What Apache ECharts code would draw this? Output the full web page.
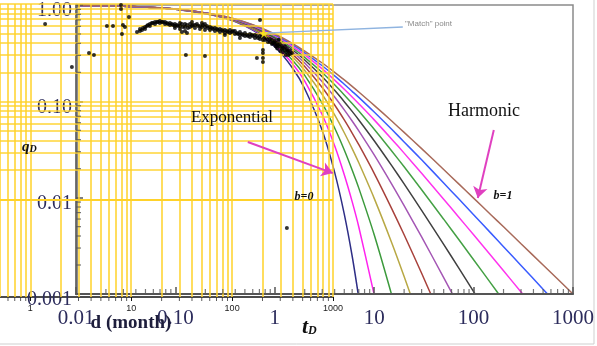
<!DOCTYPE html>
<html><head><meta charset="utf-8">
<script src="https://cdn.jsdelivr.net/npm/echarts@6/dist/echarts.min.js"></script>
<style>html,body{margin:0;padding:0;background:#fff}#c{width:597px;height:346px}</style>
</head><body><div id="c"></div>
<script>
// ---------- type-curve data (tD, qD) ----------
const tdSamples = [0.01,0.03,0.1,0.3,0.6,1,1.5,2,3,4,5,6,7,10,15,20,30,50,70,100,150,200,300,500,700,1000];
const bLabels = ['b=0','b=0.1','b=0.2','b=0.3','b=0.4','b=0.5','b=0.6','b=0.7','b=0.8','b=0.9','b=1'];
const qB00 = [0.990,0.970,0.905,0.741,0.549,0.368,0.223,0.135,0.0498,0.0183,0.00674,0.00248,0.00091];
const qB01 = [0.990,0.970,0.905,0.744,0.558,0.386,0.247,0.162,0.0725,0.0346,0.0173,0.0091,0.00496,0.00098];
const qB02 = [0.990,0.970,0.906,0.747,0.567,0.402,0.269,0.186,0.0954,0.0529,0.0313,0.0194,0.01256,0.00412,0.000977];
const qB03 = [0.990,0.970,0.906,0.750,0.576,0.417,0.290,0.209,0.1177,0.0722,0.0472,0.0323,0.0230,0.00984,0.00341,0.00152,0.000464];
const qB04 = [0.990,0.970,0.907,0.753,0.584,0.431,0.309,0.230,0.1393,0.0917,0.0642,0.0469,0.0355,0.0179,0.00771,0.00412,0.00164,0.000495];
const qB05 = [0.990,0.970,0.907,0.756,0.592,0.444,0.327,0.250,0.160,0.111,0.0816,0.0625,0.0494,0.0278,0.01384,0.00826,0.00391,0.00148,0.000772];
const qB06 = [0.990,0.970,0.907,0.759,0.599,0.457,0.343,0.269,0.180,0.130,0.0992,0.0786,0.0641,0.0390,0.0215,0.01391,0.00739,0.00327,0.00190,0.00106,0.000543];
const qB07 = [0.990,0.970,0.908,0.762,0.606,0.469,0.359,0.286,0.199,0.1485,0.1166,0.0949,0.0792,0.0513,0.0305,0.0209,0.01209,0.00598,0.00374,0.00227,0.00128,0.000851];
const qB08 = [0.990,0.970,0.908,0.764,0.613,0.480,0.373,0.303,0.217,0.166,0.1337,0.1111,0.0945,0.0642,0.0405,0.0290,0.01789,0.00964,0.00638,0.00412,0.00249,0.00174,0.00105,0.000557];
const qB09 = [0.990,0.970,0.909,0.767,0.619,0.490,0.387,0.319,0.234,0.184,0.1505,0.127,0.1099,0.0774,0.0512,0.0379,0.0247,0.01421,0.00984,0.00666,0.00426,0.00310,0.00198,0.00112,0.000774];
const qB10 = [0.990,0.971,0.909,0.769,0.625,0.500,0.400,0.333,0.250,0.200,0.1667,0.1429,0.125,0.0909,0.0625,0.0476,0.0323,0.0196,0.01408,0.0099,0.00662,0.00498,0.00332,0.0020,0.00143,0.000999];
const curveValues = [qB00,qB01,qB02,qB03,qB04,qB05,qB06,qB07,qB08,qB09,qB10];

// ---------- tick labels ----------
const tdTickValues = [0.01,0.1,1,10,100,1000];
const tdTickLabels = ['0.01','0.10','1','10','100','1000'];
const qdTickValues = [0.001,0.01,0.1,1];
const qdTickLabels = ['0.001','0.01','0.10','1.00'];
const monthTickValues = [1,10,100,1000];
const monthTickLabels = ['1','10','100','1000'];
const tdMinorTicks = [0.02,0.03,0.04,0.05,0.06,0.07,0.08,0.09,0.2,0.3,0.4,0.5,0.6,0.7,0.8,0.9,2,3,4,5,6,7,8,9,20,30,40,50,60,70,80,90,200,300,400,500,600,700,800,900];
const qdMinorTicks = [0.002,0.003,0.004,0.005,0.006,0.007,0.008,0.009,0.02,0.03,0.04,0.05,0.06,0.07,0.08,0.09,0.2,0.3,0.4,0.5,0.6,0.7,0.8,0.9];
const monthMinorTicks = [0.6,0.7,0.8,0.9,2,3,4,5,6,7,8,9,20,30,40,50,60,70,80,90,200,300,400,500,600,700,800,900];

// ---------- overlay (production data) grid values ----------
const monthGridValues = [0.5,0.6,0.7,0.8,0.9,1,2,3,4,5,6,7,8,9,10,20,30,40,50,60,70,80,90,100,200,300,400,500,600,700,800,900,1000];
const rateGridValues = [0.001,0.002,0.003,0.004,0.005,0.006,0.007,0.008,0.009,0.01,0.02,0.03,0.04,0.05,0.06,0.07,0.08,0.09,0.1,0.2,0.3,0.4,0.5,0.6,0.7,0.8,0.9,1];

// ---------- production data points (month, normalized rate) ----------
const wellPoints = [
 [1.40,0.624],[2.58,0.227],[3.81,0.315],[4.27,0.301],[5.74,0.595],[6.59,0.595],[7.91,0.977],[7.91,0.889],[8.27,0.610],[8.66,0.582],[8.09,0.493],[9.49,0.736],[11.4,0.517],
 [34.8,0.301],[53.8,0.294],[176,0.280],[202,0.338],[202,0.315],[202,0.280],[202,0.255],[189,0.686],[349,0.0051],
 [12.2,0.529],[12.2,0.555],[12.8,0.542],[13.7,0.582],[13.7,0.555],[14.3,0.595],[15.3,0.624],[15.3,0.595],[16.0,0.639],[17.2,0.654],[17.2,0.624],[18.0,0.654],[19.2,0.670],[19.2,0.639],[20.1,0.654],[21.6,0.654],[21.6,0.624],[22.6,0.639],[24.2,0.639],[24.2,0.610],[25.3,0.624],[27.1,0.624],[27.1,0.595],[27.1,0.568],[28.4,0.610],
 [30.4,0.639],[30.4,0.595],[30.4,0.555],[31.8,0.624],[31.8,0.517],[34.1,0.624],[34.1,0.582],[34.1,0.529],[35.7,0.610],[35.7,0.505],[38.2,0.624],[38.2,0.582],[40.0,0.654],[40.0,0.595],[42.8,0.610],[42.8,0.568],[44.8,0.624],[48.0,0.595],[48.0,0.555],
 [50.2,0.639],[50.2,0.582],[53.8,0.624],[53.8,0.582],[53.8,0.542],[56.3,0.595],[60.3,0.582],[60.3,0.542],[63.1,0.568],[67.5,0.568],[67.5,0.529],[70.7,0.555],[75.7,0.555],[75.7,0.517],[79.2,0.542],[84.8,0.542],[84.8,0.505],[84.8,0.482],[88.8,0.529],[95.1,0.542],[95.1,0.505],[99.5,0.517],
 [106.6,0.529],[106.6,0.493],[111.6,0.505],[119.5,0.517],[119.5,0.482],[119.5,0.449],[125.1,0.493],[133.9,0.505],[133.9,0.470],[140.2,0.482],[150.1,0.493],[150.1,0.459],[157.2,0.482],[168.3,0.482],[168.3,0.449],[176.2,0.470],[188.6,0.470],[188.6,0.438],[197.4,0.459],
 [211.4,0.459],[211.4,0.428],[221.4,0.438],[236.9,0.438],[236.9,0.409],[248.0,0.428],[248.0,0.390],[265.6,0.418],[265.6,0.390],[278.1,0.399],[278.1,0.372],[297.6,0.390],[297.6,0.364],[311.6,0.372],[311.6,0.347],[333.7,0.364],[333.7,0.338],[349.4,0.347],[349.4,0.323],[374.0,0.330],[374.0,0.308],[391.5,0.315],
 [260,0.40],[280,0.35],[300,0.33],[320,0.32],[340,0.30],[360,0.30],[290,0.43],[270,0.37],
 [13.06,0.568],[14.64,0.610],[16.41,0.639],[18.39,0.654],[20.62,0.654],[23.11,0.624],[25.90,0.610],[29.03,0.595],[32.54,0.582],[36.47,0.568],[40.88,0.610],[45.81,0.595],[51.35,0.610],[57.56,0.568],[64.52,0.555],
 [72.32,0.542],[81.06,0.529],[90.87,0.517],[101.8,0.529],[114.2,0.493],[127.9,0.482],[143.4,0.470],[160.7,0.470],[180.2,0.449],[202.0,0.428],[226.4,0.409],[253.8,0.399],[284.4,0.381],[318.8,0.355],[357.3,0.330]
];

// ---------- annotations in (tD, qD) ----------
const matchPoint = [0.78, 0.51];
const matchLabelEnd = [19.4, 0.591];
const expArrow = [[0.535, 0.0378], [3.83, 0.018]];
const harmArrow = [[159.7, 0.0504], [110.2, 0.0099]];

// ---------- styles ----------
const curveColors = ['#2e2e86','#ff22ee','#3c9a3c','#b8a844','#a8423c','#a456b4','#404040','#44a044','#ff33ee','#3a5cff','#a86a5a'];
const labelColor = '#2c2c5c';
const yellow = '#ffd22a';

function pickLabel(vals, labels) {
  return function (v) {
    for (let i = 0; i < vals.length; i++) {
      if (Math.abs(Math.log10(vals[i]) - Math.log10(v)) < 1e-6) return labels[i];
    }
    return '';
  };
}

const series = [];
// overlay yellow grid
series.push({
  type: 'line', xAxisIndex: 1, yAxisIndex: 1, data: [], z: 1, silent: true,
  markLine: {
    silent: true, symbol: 'none', label: { show: false }, animation: false,
    lineStyle: { color: yellow, width: 1.6, type: 'solid', opacity: 0.95 },
    emphasis: { disabled: true },
    data: monthGridValues.map(v => ({ xAxis: v })).concat(rateGridValues.map(v => ({ yAxis: v })))
  }
});
// type curves
curveValues.forEach((arr, i) => {
  series.push({
    name: bLabels[i], type: 'line', xAxisIndex: 0, yAxisIndex: 0, z: 3,
    data: arr.map((q, k) => [tdSamples[k], q]),
    showSymbol: false, symbol: 'none', smooth: 0.3, clip: true,
    lineStyle: { color: curveColors[i], width: 1.5 }
  });
});
// minor ticks on the axes
series.push({
  type: 'scatter', xAxisIndex: 0, yAxisIndex: 0, z: 5, silent: true, clip: false,
  data: tdMinorTicks.map(v => [v, 0.001]), symbol: 'rect', symbolSize: [1.2, 5], symbolOffset: [0, -2.5],
  itemStyle: { color: '#555' }
});
series.push({
  type: 'scatter', xAxisIndex: 0, yAxisIndex: 0, z: 5, silent: true, clip: false,
  data: qdMinorTicks.map(v => [0.01, v]), symbol: 'rect', symbolSize: [5, 1.2], symbolOffset: [2.5, 0],
  itemStyle: { color: '#555' }
});
series.push({
  type: 'scatter', xAxisIndex: 1, yAxisIndex: 1, z: 5, silent: true, clip: false,
  data: monthMinorTicks.map(v => [v, 0.001]), symbol: 'rect', symbolSize: [1, 4], symbolOffset: [0, 2],
  itemStyle: { color: '#333' }
});
// production data points
series.push({
  type: 'scatter', xAxisIndex: 1, yAxisIndex: 1, z: 6, data: wellPoints,
  symbolSize: 4, itemStyle: { color: '#000' }
});
// match point leader + star
series.push({
  type: 'line', xAxisIndex: 0, yAxisIndex: 0, z: 7, data: [matchPoint, matchLabelEnd],
  symbol: 'none', lineStyle: { color: '#8fb4e0', width: 1.3 }
});
series.push({
  type: 'scatter', xAxisIndex: 0, yAxisIndex: 0, z: 8, data: [matchPoint],
  symbol: 'path://M50,0 L61,35 L98,35 L68,57 L79,91 L50,70 L21,91 L32,57 L2,35 L39,35 Z',
  symbolSize: 10, itemStyle: { color: '#ffe81a' }
});
// arrows
series.push({
  type: 'line', xAxisIndex: 0, yAxisIndex: 0, z: 8, data: [],
  markLine: {
    silent: true, symbol: ['none', 'arrow'], symbolSize: 11, label: { show: false }, animation: false,
    lineStyle: { color: '#e040c0', width: 2, type: 'solid' },
    data: [
      [{ coord: expArrow[0] }, { coord: expArrow[1] }],
      [{ coord: harmArrow[0] }, { coord: harmArrow[1] }]
    ]
  }
});

const serif = '"Liberation Serif", "DejaVu Serif", serif';

const option = {
  animation: false,
  backgroundColor: '#fff',
  grid: [
    { left: 76, right: 24, top: 5, bottom: 52, show: true, borderColor: '#8a8a8a', borderWidth: 1.5, backgroundColor: 'transparent', outerBoundsMode: 'none' },
    { left: 0, right: 264, top: 4, bottom: 49, show: false, outerBoundsMode: 'none' }
  ],
  xAxis: [
    { type: 'log', logBase: 10, gridIndex: 0, min: 0.01, max: 1000, z: 4,
      axisLine: { show: true, lineStyle: { color: '#555', width: 2 } },
      axisTick: { show: true, inside: true, length: 7, lineStyle: { color: '#555', width: 1.5 } },
      splitLine: { show: false },
      axisLabel: { margin: 14, fontSize: 21, fontFamily: serif, color: labelColor, formatter: pickLabel(tdTickValues, tdTickLabels) } },
    { type: 'log', logBase: 10, gridIndex: 1, min: 0.5, max: 1000, z: 4,
      axisLine: { show: true, lineStyle: { color: '#111', width: 1.5 } },
      axisTick: { show: true, length: 4, lineStyle: { color: '#111' } },
      splitLine: { show: false },
      axisLabel: { margin: 7, fontSize: 9, fontFamily: 'Liberation Sans, Arial, sans-serif', color: '#222', showMinLabel: false, formatter: pickLabel(monthTickValues, monthTickLabels) } }
  ],
  yAxis: [
    { type: 'log', logBase: 10, gridIndex: 0, min: 0.001, max: 1, z: 4,
      axisLine: { show: true, lineStyle: { color: '#666', width: 2.5 } },
      axisTick: { show: true, inside: true, length: 7, lineStyle: { color: '#555', width: 1.5 } },
      splitLine: { show: false },
      axisLabel: { margin: 4, fontSize: 20, fontFamily: serif, color: labelColor, verticalAlign: 'top', lineHeight: 12, formatter: pickLabel(qdTickValues, qdTickLabels) } },
    { type: 'log', logBase: 10, gridIndex: 1, min: 0.001, max: 1, show: false,
      splitLine: { show: false } }
  ],
  graphic: [
    { type: 'rect', z: 0, shape: { x: -1, y: -1, width: 595, height: 345 }, style: { fill: 'none', stroke: '#cfcfcf', lineWidth: 1 } },
    { type: 'text', z: 50, x: 232, y: 118, style: { text: 'Exponential', font: '17px ' + serif, fill: '#111', align: 'center', verticalAlign: 'middle' } },
    { type: 'text', z: 50, x: 484, y: 111, style: { text: 'Harmonic', font: '18px ' + serif, fill: '#111', align: 'center', verticalAlign: 'middle' } },
    { type: 'text', z: 50, x: 304, y: 197, style: { text: 'b=0', font: 'italic bold 12px ' + serif, fill: '#111', align: 'center', verticalAlign: 'middle' } },
    { type: 'text', z: 50, x: 503, y: 196, style: { text: 'b=1', font: 'italic bold 12px ' + serif, fill: '#111', align: 'center', verticalAlign: 'middle' } },
    { type: 'text', z: 50, x: 405, y: 24, style: { text: '"Match" point', font: '8px "Liberation Sans", Arial, sans-serif', fill: '#8a8a8a', align: 'left', verticalAlign: 'middle' } },
    { type: 'text', z: 50, x: 131, y: 323, style: { text: 'd (month)', font: 'bold 19px ' + serif, fill: '#1e1e3c', align: 'center', verticalAlign: 'middle' } },
    { type: 'text', z: 50, x: 22, y: 147, style: { text: '{q|q}{d|D}', align: 'left', verticalAlign: 'middle',
        rich: { q: { font: 'italic bold 15px ' + serif, fill: '#111' }, d: { font: 'italic bold 10px ' + serif, fill: '#111', padding: [5, 0, 0, 0] } } } },
    { type: 'text', z: 50, x: 302, y: 327, style: { text: '{t|t}{d|D}', align: 'left', verticalAlign: 'middle',
        rich: { t: { font: 'italic bold 22px ' + serif, fill: '#111' }, d: { font: 'italic bold 12px ' + serif, fill: '#111', padding: [8, 0, 0, 0] } } } }
  ],
  series: series
};

const chart = echarts.init(document.getElementById('c'), null, { renderer: 'canvas' });
chart.setOption(option);
</script>
</body></html>
